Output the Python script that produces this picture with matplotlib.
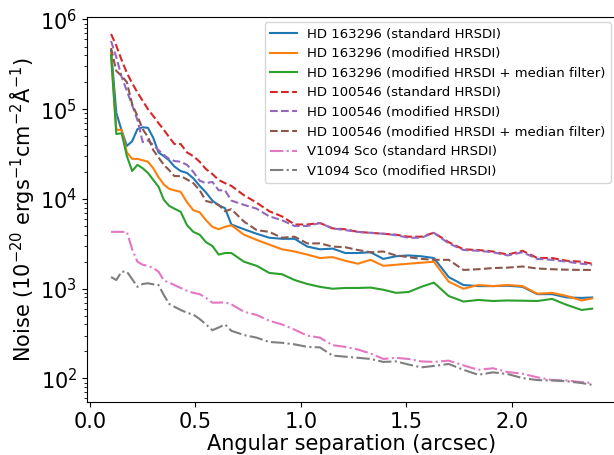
import matplotlib
matplotlib.use("Agg")
import matplotlib.pyplot as plt

sep = [0.10, 0.125, 0.15, 0.175, 0.20, 0.225, 0.25, 0.275, 0.30, 0.325, 0.35, 0.375,
       0.40, 0.43, 0.46, 0.49, 0.52, 0.55, 0.58, 0.61, 0.64, 0.67, 0.73, 0.79, 0.85,
       0.91, 0.97, 1.03, 1.09, 1.15, 1.21, 1.27, 1.33, 1.39, 1.45, 1.51, 1.57, 1.63,
       1.70, 1.77, 1.84, 1.91, 1.98, 2.05, 2.12, 2.19, 2.26, 2.33, 2.38]

hd163_std = [460e3, 91e3, 58e3, 39e3, 44e3, 60e3, 63e3, 62e3, 48e3, 33e3, 30e3, 27e3,
             23e3, 20.5e3, 19.5e3, 17e3, 14e3, 11.8e3, 9.6e3, 8.5e3, 7.9e3, 5.2e3, 4.6e3, 4.1e3, 3.7e3,
             3.6e3, 3.6e3, 2.95e3, 2.75e3, 2.8e3, 2.5e3, 2.5e3, 2.55e3, 2.15e3, 2.3e3, 2.35e3, 2.3e3, 2.2e3,
             1.35e3, 1.1e3, 1.07e3, 1.07e3, 1.08e3, 1.05e3, 870, 870, 800, 790, 800]

hd163_mod = [425e3, 59e3, 59e3, 33e3, 28e3, 28e3, 27e3, 26e3, 22e3, 17.5e3, 14.5e3, 13e3,
             12.5e3, 12e3, 9.2e3, 7.5e3, 7.1e3, 5.8e3, 4.9e3, 4.6e3, 4.9e3, 5.1e3, 4.0e3, 3.5e3, 3.1e3,
             2.75e3, 2.6e3, 2.4e3, 2.2e3, 2.25e3, 2.05e3, 1.9e3, 2.1e3, 1.8e3, 1.85e3, 1.9e3, 1.95e3, 2.0e3,
             1.2e3, 1.0e3, 1.1e3, 1.07e3, 1.1e3, 1.07e3, 880, 900, 830, 740, 780]

hd163_med = [400e3, 53e3, 54e3, 30e3, 20.5e3, 24e3, 22e3, 19.5e3, 16.3e3, 13.7e3, 9.8e3, 8.4e3,
             7.8e3, 7.2e3, 5.1e3, 4.3e3, 4.0e3, 3.3e3, 3.0e3, 2.4e3, 2.5e3, 2.5e3, 2.0e3, 1.8e3, 1.5e3,
             1.45e3, 1.25e3, 1.13e3, 1.05e3, 1.0e3, 1.02e3, 1.02e3, 1.03e3, 975, 900, 920, 1.05e3, 1.17e3,
             830, 720, 750, 730, 740, 735, 730, 770, 660, 580, 600]

hd100_std = [690e3, 510e3, 354e3, 254e3, 195e3, 154e3, 124e3, 100e3, 84e3, 70e3, 59e3, 49e3,
             41e3, 41e3, 33e3, 30e3, 26e3, 21.5e3, 19e3, 16.3e3, 15e3, 14e3, 11e3, 9.1e3, 7.3e3,
             6.4e3, 5.2e3, 5.2e3, 5.4e3, 4.7e3, 4.6e3, 4.3e3, 4.2e3, 4.1e3, 4.0e3, 3.8e3, 3.8e3, 4.2e3,
             3.3e3, 2.75e3, 2.7e3, 2.6e3, 2.4e3, 2.65e3, 2.2e3, 2.2e3, 2.05e3, 2.0e3, 1.9e3]

hd100_mod = [575e3, 380e3, 230e3, 160e3, 111e3, 76e3, 43e3, 45e3, 40e3, 35e3, 31e3, 28e3,
             26.5e3, 26e3, 24e3, 20e3, 16e3, 15e3, 15.5e3, 12.5e3, 12.5e3, 9.6e3, 8.6e3, 7.8e3, 6.4e3,
             5.8e3, 5.0e3, 5.0e3, 5.4e3, 4.7e3, 4.5e3, 4.3e3, 4.2e3, 4.1e3, 3.95e3, 3.7e3, 3.7e3, 4.2e3,
             3.2e3, 2.7e3, 2.65e3, 2.55e3, 2.35e3, 2.55e3, 2.15e3, 2.1e3, 2.0e3, 1.9e3, 1.85e3]

hd100_med = [480e3, 267e3, 235e3, 200e3, 114e3, 84e3, 60e3, 49e3, 35e3, 29e3, 24e3, 21e3,
             18e3, 18e3, 16.5e3, 15e3, 12.5e3, 9.5e3, 9.1e3, 8.6e3, 7.3e3, 7.7e3, 5.6e3, 4.5e3, 4.3e3,
             3.7e3, 3.8e3, 3.2e3, 3.2e3, 2.95e3, 2.9e3, 2.7e3, 2.55e3, 2.6e3, 2.35e3, 2.25e3, 2.15e3, 2.1e3,
             2.1e3, 1.62e3, 1.65e3, 1.7e3, 1.72e3, 1.77e3, 1.68e3, 1.65e3, 1.63e3, 1.62e3, 1.62e3]

v1094_std = [4.3e3, 4.3e3, 4.3e3, 4.3e3, 2.75e3, 2.0e3, 1.85e3, 1.8e3, 1.7e3, 1.55e3, 1.24e3, 1.17e3,
             1.1e3, 1.02e3, 950, 900, 870, 790, 700, 700, 705, 670, 555, 510, 440,
             400, 350, 300, 285, 235, 225, 210, 190, 165, 170, 165, 155, 153,
             158, 140, 125, 130, 118, 113, 103, 96, 95, 91, 89]

v1094_mod = [1.35e3, 1.25e3, 1.55e3, 1.55e3, 1.28e3, 1.05e3, 1.13e3, 1.15e3, 1.12e3, 1.10e3, 850, 680,
             630, 580, 540, 515, 460, 400, 345, 370, 400, 340, 305, 285, 255,
             250, 240, 225, 222, 180, 175, 170, 165, 153, 155, 143, 133, 138,
             145, 125, 110, 117, 112, 101, 96, 95, 93, 89, 85]

series = [
    (hd163_std, "HD 163296 (standard HRSDI)", "C0", "-"),
    (hd163_mod, "HD 163296 (modified HRSDI)", "C1", "-"),
    (hd163_med, "HD 163296 (modified HRSDI + median filter)", "C2", "-"),
    (hd100_std, "HD 100546 (standard HRSDI)", "C3", "--"),
    (hd100_mod, "HD 100546 (modified HRSDI)", "C4", "--"),
    (hd100_med, "HD 100546 (modified HRSDI + median filter)", "C5", "--"),
    (v1094_std, "V1094 Sco (standard HRSDI)", "C6", "-."),
    (v1094_mod, "V1094 Sco (modified HRSDI)", "C7", "-."),
]

fig = plt.figure(figsize=(6.14, 4.55), dpi=100)
ax = fig.add_axes([87 / 614, 53 / 455, 529 / 614, 385 / 455])
for vals, lab, col, ls in series:
    ax.plot(sep, vals, color=col, linestyle=ls, lw=1.5, label=lab)

ax.set_yscale("log")
ax.set_xlim(-0.014, 2.493)
ax.set_ylim(54.7, 1.066e6)
ax.set_xticks([0.0, 0.5, 1.0, 1.5, 2.0])
ax.tick_params(labelsize=15)
ax.set_xlabel("Angular separation (arcsec)", fontsize=15, labelpad=2)
ax.set_ylabel("Noise ($10^{-20}$ ergs$^{-1}$cm$^{-2}$Å$^{-1}$)", fontsize=15, labelpad=2)
ax.legend(loc="upper right", fontsize=9.5, borderaxespad=0.4)

fig.savefig("out.png", dpi=100)
